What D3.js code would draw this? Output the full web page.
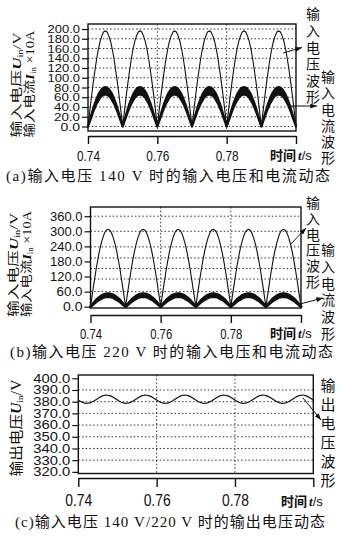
<!DOCTYPE html>
<html>
<head>
<meta charset="utf-8">
<script src="https://cdn.jsdelivr.net/npm/d3@7"></script>
<style>
  html, body { margin: 0; padding: 0; background: #fff; }
  svg { display: block; }
</style>
</head>
<body>
<svg id="chart" width="353" height="537"></svg>
<script>
// sampling grid of the scope traces: 0.74 s .. 0.80 s, one value every 0.5 ms
const tStart = 0.74, tStep = 0.0005;
const xTicks = [0.74, 0.76, 0.78, 0.80];
const xTickLabels = ['0.74', '0.76', '0.78', ''];
const xGrid = [0.76, 0.78];

// (a) input 140 V
const yTicksA = [0, 20, 40, 60, 80, 100, 120, 140, 160, 180, 200];
const yLabelsA = ['0.0', '20.0', '40.0', '60.0', '80.0', '100.0', '120.0', '140.0', '160.0', '180.0', '200.0'];
const yGridA = [0, 20, 40, 60, 80, 100, 120, 140, 160, 180, 200];
const voltA = [
  0, 31, 61, 89, 115, 139, 159, 175, 186, 194, 196, 194, 186, 175, 159, 139, 115, 89, 61, 31,
  0, 31, 61, 89, 115, 139, 159, 175, 186, 194, 196, 194, 186, 175, 159, 139, 115, 89, 61, 31,
  0, 31, 61, 89, 115, 139, 159, 175, 186, 194, 196, 194, 186, 175, 159, 139, 115, 89, 61, 31,
  0, 31, 61, 89, 115, 139, 159, 175, 186, 194, 196, 194, 186, 175, 159, 139, 115, 89, 61, 31,
  0, 31, 61, 89, 115, 139, 159, 175, 186, 194, 196, 194, 186, 175, 159, 139, 115, 89, 61, 31,
  0, 31, 61, 89, 115, 139, 159, 175, 186, 194, 196, 194, 186, 175, 159, 139, 115, 89, 61, 31,
  0
];
const curHiA = [
  0, 13, 25, 37, 48, 57, 66, 72, 77, 80, 81, 80, 77, 72, 66, 57, 48, 37, 25, 13,
  0, 13, 25, 37, 48, 57, 66, 72, 77, 80, 81, 80, 77, 72, 66, 57, 48, 37, 25, 13,
  0, 13, 25, 37, 48, 57, 66, 72, 77, 80, 81, 80, 77, 72, 66, 57, 48, 37, 25, 13,
  0, 13, 25, 37, 48, 57, 66, 72, 77, 80, 81, 80, 77, 72, 66, 57, 48, 37, 25, 13,
  0, 13, 25, 37, 48, 57, 66, 72, 77, 80, 81, 80, 77, 72, 66, 57, 48, 37, 25, 13,
  0, 13, 25, 37, 48, 57, 66, 72, 77, 80, 81, 80, 77, 72, 66, 57, 48, 37, 25, 13,
  0
];
const curLoA = [
  0, 10, 20, 30, 39, 47, 53, 59, 63, 65, 66, 65, 63, 59, 53, 47, 39, 30, 20, 10,
  0, 10, 20, 30, 39, 47, 53, 59, 63, 65, 66, 65, 63, 59, 53, 47, 39, 30, 20, 10,
  0, 10, 20, 30, 39, 47, 53, 59, 63, 65, 66, 65, 63, 59, 53, 47, 39, 30, 20, 10,
  0, 10, 20, 30, 39, 47, 53, 59, 63, 65, 66, 65, 63, 59, 53, 47, 39, 30, 20, 10,
  0, 10, 20, 30, 39, 47, 53, 59, 63, 65, 66, 65, 63, 59, 53, 47, 39, 30, 20, 10,
  0, 10, 20, 30, 39, 47, 53, 59, 63, 65, 66, 65, 63, 59, 53, 47, 39, 30, 20, 10,
  0
];

// (b) input 220 V
const yTicksB = [0, 60, 120, 180, 240, 300, 360];
const yLabelsB = ['0.0', '60.0', '120.0', '180.0', '240.0', '300.0', '360.0'];
const yGridB = [60, 110, 152, 194, 238, 300, 360];
const voltB = [
  0, 48, 95, 140, 181, 218, 249, 274, 293, 304, 308, 304, 293, 274, 249, 218, 181, 140, 95, 48,
  0, 48, 95, 140, 181, 218, 249, 274, 293, 304, 308, 304, 293, 274, 249, 218, 181, 140, 95, 48,
  0, 48, 95, 140, 181, 218, 249, 274, 293, 304, 308, 304, 293, 274, 249, 218, 181, 140, 95, 48,
  0, 48, 95, 140, 181, 218, 249, 274, 293, 304, 308, 304, 293, 274, 249, 218, 181, 140, 95, 48,
  0, 48, 95, 140, 181, 218, 249, 274, 293, 304, 308, 304, 293, 274, 249, 218, 181, 140, 95, 48,
  0, 48, 95, 140, 181, 218, 249, 274, 293, 304, 308, 304, 293, 274, 249, 218, 181, 140, 95, 48,
  0
];
const curHiB = [
  0, 8, 16, 24, 31, 37, 42, 46, 49, 51, 52, 51, 49, 46, 42, 37, 31, 24, 16, 8,
  0, 8, 16, 24, 31, 37, 42, 46, 49, 51, 52, 51, 49, 46, 42, 37, 31, 24, 16, 8,
  0, 8, 16, 24, 31, 37, 42, 46, 49, 51, 52, 51, 49, 46, 42, 37, 31, 24, 16, 8,
  0, 8, 16, 24, 31, 37, 42, 46, 49, 51, 52, 51, 49, 46, 42, 37, 31, 24, 16, 8,
  0, 8, 16, 24, 31, 37, 42, 46, 49, 51, 52, 51, 49, 46, 42, 37, 31, 24, 16, 8,
  0, 8, 16, 24, 31, 37, 42, 46, 49, 51, 52, 51, 49, 46, 42, 37, 31, 24, 16, 8,
  0
];
const curLoB = [
  0, 6, 12, 18, 24, 28, 32, 36, 38, 40, 40, 40, 38, 36, 32, 28, 24, 18, 12, 6,
  0, 6, 12, 18, 24, 28, 32, 36, 38, 40, 40, 40, 38, 36, 32, 28, 24, 18, 12, 6,
  0, 6, 12, 18, 24, 28, 32, 36, 38, 40, 40, 40, 38, 36, 32, 28, 24, 18, 12, 6,
  0, 6, 12, 18, 24, 28, 32, 36, 38, 40, 40, 40, 38, 36, 32, 28, 24, 18, 12, 6,
  0, 6, 12, 18, 24, 28, 32, 36, 38, 40, 40, 40, 38, 36, 32, 28, 24, 18, 12, 6,
  0, 6, 12, 18, 24, 28, 32, 36, 38, 40, 40, 40, 38, 36, 32, 28, 24, 18, 12, 6,
  0
];

// (c) output voltage
const yTicksC = [320, 330, 340, 350, 360, 370, 380, 390, 400];
const yLabelsC = ['320.0', '330.0', '340.0', '350.0', '360.0', '370.0', '380.0', '390.0', '400.0'];
const yGridC = [330, 340, 350, 360, 370, 380, 390];
const outC = [
  381.4, 380.4, 379.5, 378.9, 378.6, 378.7, 379.0, 379.7, 380.6, 381.7, 382.8, 383.8, 384.7, 385.3, 385.6, 385.5, 385.2, 384.5, 383.6, 382.5,
  381.4, 380.4, 379.5, 378.9, 378.6, 378.7, 379.0, 379.7, 380.6, 381.7, 382.8, 383.8, 384.7, 385.3, 385.6, 385.5, 385.2, 384.5, 383.6, 382.5,
  381.4, 380.4, 379.5, 378.9, 378.6, 378.7, 379.0, 379.7, 380.6, 381.7, 382.8, 383.8, 384.7, 385.3, 385.6, 385.5, 385.2, 384.5, 383.6, 382.5,
  381.4, 380.4, 379.5, 378.9, 378.6, 378.7, 379.0, 379.7, 380.6, 381.7, 382.8, 383.8, 384.7, 385.3, 385.6, 385.5, 385.2, 384.5, 383.6, 382.5,
  381.4, 380.4, 379.5, 378.9, 378.6, 378.7, 379.0, 379.7, 380.6, 381.7, 382.8, 383.8, 384.7, 385.3, 385.6, 385.5, 385.2, 384.5, 383.6, 382.5,
  381.4, 380.4, 379.5, 378.9, 378.6, 378.7, 379.0, 379.7, 380.6, 381.7, 382.8, 383.8, 384.7, 385.3, 385.6, 385.5, 385.2, 384.5, 383.6, 382.5,
  381.4
];

const SANS = '"Liberation Sans", Arial, sans-serif';
const CJK = '"Noto Sans CJK SC", sans-serif';
const SERIF = '"Liberation Serif", "Noto Sans CJK SC", serif';
const INK = '#111';

const svg = d3.select('#chart');
svg.append('rect').attr('width', 353).attr('height', 537).attr('fill', '#fff');

svg.append('defs').append('marker')
    .attr('id', 'arrow')
    .attr('viewBox', '0 0 8 6')
    .attr('refX', 8).attr('refY', 3)
    .attr('markerWidth', 7).attr('markerHeight', 5)
    .attr('markerUnits', 'userSpaceOnUse')
    .attr('orient', 'auto')
    .append('path')
    .attr('d', 'M0,0L8,3L0,6z')
    .attr('fill', INK);

// draws one oscilloscope panel
function drawPanel(p) {
    const g = svg.append('g');
    const x = d3.scaleLinear().domain([0.74, 0.80]).range([p.left, p.right]);
    const y = d3.scaleLinear().domain(p.yDomain).range([p.bottom, p.top]);
    const tx = (d, i) => x(tStart + i * tStep);

    // dotted grid
    g.append('g').selectAll('line').data(p.yGrid).join('line')
        .attr('x1', p.left).attr('x2', p.right)
        .attr('y1', d => y(d)).attr('y2', d => y(d))
        .attr('stroke', '#333').attr('stroke-width', 1)
        .attr('stroke-dasharray', '1.5,2.2');
    g.append('g').selectAll('line').data(xGrid).join('line')
        .attr('x1', d => x(d)).attr('x2', d => x(d))
        .attr('y1', p.top).attr('y2', p.bottom)
        .attr('stroke', '#333').attr('stroke-width', 1)
        .attr('stroke-dasharray', '1.5,2.2');

    // current band
    if (p.curHi) {
        const area = d3.area().x(tx).y0((d, i) => y(p.curLo[i])).y1(d => y(d));
        g.append('path').datum(p.curHi)
            .attr('d', area)
            .attr('fill', INK).attr('stroke', INK)
            .attr('stroke-width', p.curStroke).attr('stroke-linejoin', 'round');
    }

    // voltage trace
    const line = d3.line().x(tx).y(d => y(d));
    g.append('path').datum(p.volt)
        .attr('d', line)
        .attr('fill', 'none').attr('stroke', INK)
        .attr('stroke-width', p.voltStroke);

    // frame
    g.append('rect')
        .attr('x', p.left).attr('y', p.top)
        .attr('width', p.right - p.left).attr('height', p.bottom - p.top)
        .attr('fill', 'none').attr('stroke', INK).attr('stroke-width', 1.4);

    // y axis
    const yAxis = g.append('g')
        .attr('transform', `translate(${p.left},0)`)
        .call(d3.axisLeft(y).tickValues(p.yTicks)
            .tickFormat((d, i) => p.yLabels[i]).tickSize(6).tickPadding(2));
    yAxis.select('.domain').remove();
    yAxis.selectAll('line').attr('stroke', INK).attr('stroke-width', 1.2);
    yAxis.selectAll('text')
        .attr('font-family', SANS).attr('font-size', p.yFont).attr('fill', INK)
        .attr('textLength', (d, i) => p.yLabels[i].length * p.yLabelLen)
        .attr('lengthAdjust', 'spacingAndGlyphs');

    // x axis, detached below the frame
    const xAxis = g.append('g')
        .attr('transform', `translate(0,${p.axisY})`)
        .call(d3.axisBottom(x).tickValues(xTicks)
            .tickFormat((d, i) => xTickLabels[i]).tickSize(p.xTickSize).tickSizeOuter(0)
            .tickPadding(p.xPad));
    xAxis.select('.domain').attr('stroke', INK).attr('stroke-width', 1.4);
    xAxis.selectAll('line').attr('stroke', INK).attr('stroke-width', 1.4);
    xAxis.selectAll('text')
        .attr('font-family', SANS).attr('font-size', p.xFont).attr('fill', INK)
        .attr('textLength', p.xLabelLen).attr('lengthAdjust', 'spacingAndGlyphs');
    xAxis.selectAll('.tick').filter((d, i) => !xTickLabels[i]).select('text').remove();

    // x title
    const xt = g.append('text')
        .attr('x', p.xTitle[0]).attr('y', p.xTitle[1])
        .attr('font-size', 13).attr('fill', INK);
    xt.append('tspan').attr('font-family', CJK).attr('font-weight', 'bold').text('时间');
    xt.append('tspan').attr('font-family', SERIF).attr('font-weight', 'bold')
        .attr('font-style', 'italic').attr('dx', 2).text('t');
    xt.append('tspan').attr('font-family', SANS).text('/s');

    // y titles (rotated)
    p.yTitles.forEach(t => {
        const txt = g.append('text')
            .attr('transform', `translate(${t.cx},${t.cy}) rotate(-90)`)
            .attr('text-anchor', 'middle').attr('dy', '0.36em')
            .attr('font-size', t.size).attr('fill', INK)
            .attr('textLength', t.len).attr('lengthAdjust', 'spacingAndGlyphs');
        txt.append('tspan').attr('font-family', CJK).text(t.pre);
        txt.append('tspan').attr('font-family', SERIF).attr('font-style', 'italic')
            .attr('font-weight', 'bold').text(t.sym);
        txt.append('tspan').attr('font-family', SERIF).attr('font-size', t.size * 0.62)
            .attr('dy', '0.25em').text('in');
        txt.append('tspan').attr('font-family', SERIF).attr('dy', '-0.16em').text(t.post);
    });

    // vertical annotations at the right, one column of text each
    p.notes.forEach(n => {
        g.append('text')
            .attr('x', n.x).attr('y', n.y0 - n.size / 2)
            .style('writing-mode', 'vertical-rl')
            .attr('font-family', CJK).attr('font-size', n.size).attr('fill', INK)
            .attr('letter-spacing', n.step - n.size)
            .text(n.text);
    });
    p.arrows.forEach(a => {
        g.append('line')
            .attr('x1', a[0]).attr('y1', a[1]).attr('x2', a[2]).attr('y2', a[3])
            .attr('stroke', INK).attr('stroke-width', 1)
            .attr('marker-end', 'url(#arrow)');
    });

    // caption
    g.append('text')
        .attr('x', p.caption.x).attr('y', p.caption.y)
        .attr('font-family', SERIF).attr('font-size', 15).attr('fill', INK)
        .attr('textLength', p.caption.len).attr('lengthAdjust', 'spacing')
        .text(p.caption.text);
}

drawPanel({
    left: 88, right: 296, top: 24, bottom: 131, yDomain: [-9.2, 210.3],
    yTicks: yTicksA, yLabels: yLabelsA, yGrid: yGridA, yFont: 11, yLabelLen: 6.5,
    volt: voltA, curHi: curHiA, curLo: curLoA, curStroke: 2.2, voltStroke: 1.1,
    axisY: 136, xTickSize: 8, xPad: 6, xFont: 15, xLabelLen: 23,
    xTitle: [270, 160],
    yTitles: [
        { cx: 17, cy: 85, size: 12, len: 105, pre: '输入电压', sym: 'U', post: '/V' },
        { cx: 30, cy: 84, size: 12, len: 107, pre: '输入电流', sym: 'I', post: ' ×10A' }
    ],
    notes: [
        { text: '输入电压波形', x: 313, y0: 14, step: 16.6, size: 14 },
        { text: '输入电流波形', x: 328, y0: 77, step: 16.1, size: 14 }
    ],
    arrows: [[283, 53, 302, 47.5], [290, 106, 317, 106]],
    caption: { x: 6, y: 181, len: 324, text: '(a)输入电压 140 V 时的输入电压和电流动态' }
});

drawPanel({
    left: 90.5, right: 301, top: 207, bottom: 308, yDomain: [-5.2, 396.6],
    yTicks: yTicksB, yLabels: yLabelsB, yGrid: yGridB, yFont: 13, yLabelLen: 6.5,
    volt: voltB, curHi: curHiB, curLo: curLoB, curStroke: 3, voltStroke: 1.1,
    axisY: 315, xTickSize: 8, xPad: 5, xFont: 15, xLabelLen: 22,
    xTitle: [270, 338],
    yTitles: [
        { cx: 14, cy: 265, size: 12, len: 104, pre: '输入电压', sym: 'U', post: '/V' },
        { cx: 27, cy: 264, size: 12, len: 106, pre: '输入电流', sym: 'I', post: ' ×10A' }
    ],
    notes: [
        { text: '输入电压波形', x: 313, y0: 203, step: 15.7, size: 14 },
        { text: '输入电流波形', x: 328, y0: 250, step: 16.7, size: 14 }
    ],
    arrows: [[290, 245, 306, 228], [300, 304, 323, 298]],
    caption: { x: 10, y: 357, len: 323, text: '(b)输入电压 220 V 时的输入电压和电流动态' }
});

drawPanel({
    left: 78.3, right: 313.3, top: 375, bottom: 473.5, yDomain: [318.6, 402.8],
    yTicks: yTicksC, yLabels: yLabelsC, yGrid: yGridC, yFont: 12, yLabelLen: 7.4,
    volt: outC, curHi: null, curLo: null, voltStroke: 1.2,
    axisY: 478, xTickSize: 9, xPad: 8, xFont: 16, xLabelLen: 27,
    xTitle: [281, 506],
    yTitles: [
        { cx: 16, cy: 428, size: 14, len: 97, pre: '输出电压', sym: 'U', post: '/V' }
    ],
    notes: [
        { text: '输出电压波形', x: 328, y0: 385, step: 19, size: 15 }
    ],
    arrows: [[303, 398, 321, 420]],
    caption: { x: 15, y: 527, len: 310, text: '(c)输入电压 140 V/220 V 时的输出电压动态' }
});
</script>
</body>
</html>
